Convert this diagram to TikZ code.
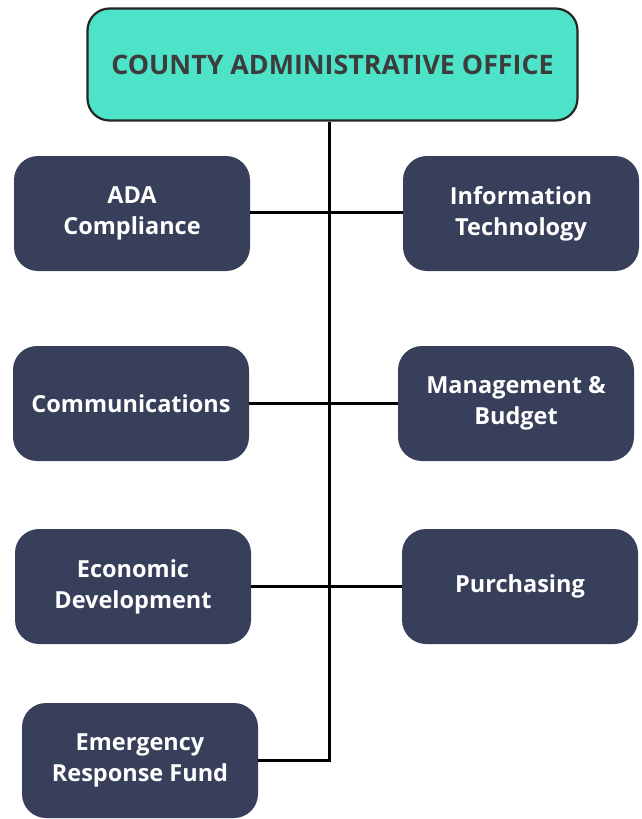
\documentclass[tikz,border=0pt]{standalone}
\usepackage{fontspec}
\setmainfont{Open Sans}
\definecolor{teal1}{HTML}{4DE3C8}
\definecolor{navy1}{HTML}{373F5A}
\definecolor{txtdark}{HTML}{3C3C3C}
\begin{document}
\begin{tikzpicture}[x=1pt,y=-1pt,
  unitbox/.style={fill=navy1,rounded corners=24pt,minimum width=236pt,minimum height=115pt,
    text=white,font=\fontsize{23.5}{31}\selectfont\bfseries,align=center,inner sep=0pt},
  conn/.style={line width=3pt}]
\useasboundingbox (0,0) rectangle (641,819);
\node[draw=black!85,line width=2.2pt,fill=teal1,rounded corners=22pt,minimum width=490pt,minimum height=112pt,
  text=txtdark,font=\fontsize{26.8}{30}\selectfont\bfseries,inner sep=0pt] (cao) at (332.5,64.5) {COUNTY ADMINISTRATIVE OFFICE};
\node[unitbox] (ada) at (132,213.5) {ADA\\Compliance};
\node[unitbox] (it) at (521,213.5) {Information\\Technology};
\node[unitbox] (com) at (131,403.5) {Communications};
\node[unitbox] (mb) at (516,403.5) {Management \&\\Budget};
\node[unitbox] (ed) at (133,586.5) {Economic\\Development};
\node[unitbox] (pur) at (520,586.5) {Purchasing};
\node[unitbox] (erf) at (140,760.5) {Emergency\\Response Fund};
\coordinate (corner) at (329,760);
\draw[conn] (329,0 |- cao.south) -- (corner) -- (erf.east |- corner);
\draw[conn] (ada.east |- 0,212) -- (it.west |- 0,212);
\draw[conn] (com.east |- 0,403) -- (mb.west |- 0,403);
\draw[conn] (ed.east |- 0,586) -- (pur.west |- 0,586);
\end{tikzpicture}
\end{document}
